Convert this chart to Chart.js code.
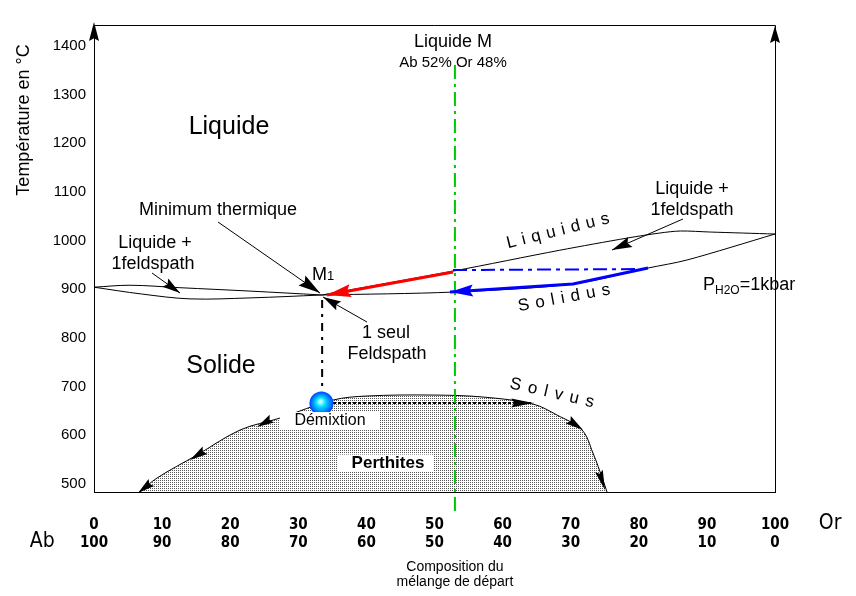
<!DOCTYPE html>
<html>
<head>
<meta charset="utf-8">
<script src="https://cdn.jsdelivr.net/npm/chart.js@4.4.0/dist/chart.umd.min.js"></script>
<style>
  html, body { margin: 0; padding: 0; background: #fff; }
</style>
</head>
<body>
<canvas id="diag" width="856" height="596"></canvas>
<script>
/* diagramme Ab-Or : liquidus / solidus / solvus, P H2O = 1 kbar */

// ── Axes ──────────────────────────────────────────────────────────────────
const orTicks   = [0, 10, 20, 30, 40, 50, 60, 70, 80, 90, 100];
const abTicks   = [100, 90, 80, 70, 60, 50, 40, 30, 20, 10, 0];
const tempTicks = [500, 600, 700, 800, 900, 1000, 1100, 1200, 1300, 1400];

// ── Courbes (x = % Or, y = °C) ────────────────────────────────────────────
const liquidusAb = [[0, 904], [5.3, 908], [12.6, 903], [22.9, 896], [33.5, 888]];
const solidusAb  = [[0, 904], [7, 890], [14.1, 880], [22.9, 882], [33.5, 888]];
const liquidusOr = [[33.5, 888], [52.7, 937], [68.4, 980], [78.3, 1005], [83.1, 1015.4],
                    [86.1, 1019.5], [90.5, 1017.4], [100, 1013.3]];
const solidusOr  = [[33.5, 888], [52.7, 894], [70.3, 910.5], [81.35, 943.4], [87.1, 960], [100, 1013.3]];
const solvus     = [[6.75, 483], [9.25, 511.7], [15.12, 559], [21.44, 610.4], [27.31, 635],
                    [35.1, 672], [40.09, 680.3], [49.78, 682.3], [57.12, 678.2], [64.46, 663.8],
                    [67.99, 641.2], [71.66, 610.4], [73.27, 563.1], [74.74, 507.6], [75.33, 483]];

// chemins de cristallisation
const startComp  = [[53, 1361], [53, 442]];
const redPath    = [[52.72, 935.2], [34.21, 887.9]];
const bluePath   = [[81.35, 943.4], [70.34, 910.5], [52.28, 894.1]];
const blueTie    = [[52.72, 939.3], [81.35, 941.3]];
const m1Drop     = [[33.5, 877.6], [33.5, 692.6]];
const demixPath  = [[35.1, 666], [64.5, 666]];
const demixBall  = [[33.4, 665]];

// traits de renvoi des étiquettes
const ptrMinimum = [[18.21, 1038], [33.19, 892]];
const ptrLiqAb   = [[8.52, 933.1], [12.63, 892]];
const ptrSeul    = [[40.09, 832.4], [33.63, 883.8]];
const ptrLiqOr   = [[86.49, 1044.2], [76.06, 980.4]];

const FONT = '"Liberation Sans", Arial, sans-serif';
const NARROW = '"Liberation Sans Narrow", "DejaVu Sans Condensed", "Liberation Sans", sans-serif';

const toXY = arr => arr.map(([x, y]) => ({ x, y }));

function lineSet(points, color, width, extra) {
    return Object.assign({
        data: toXY(points),
        showLine: true,
        borderColor: color,
        backgroundColor: color,
        borderWidth: width,
        pointRadius: 0,
        pointHoverRadius: 0,
        fill: false,
        tension: 0,
        order: 3
    }, extra || {});
}

// trame pointillée des perthites
function stipple() {
    const c = document.createElement('canvas');
    c.width = 2; c.height = 2;
    const g = c.getContext('2d');
    g.fillStyle = '#ffffff'; g.fillRect(0, 0, 2, 2);
    g.fillStyle = '#555555'; g.fillRect(0, 0, 1, 1);
    return g.createPattern(c, 'repeat');
}

// ── Annotations ───────────────────────────────────────────────────────────
const arrowHeads = [
    { tip: [34.21, 887.9], from: [52.72, 935.2], len: 24, w: 13, color: '#ff0000' },
    { tip: [52.28, 894.1], from: [70.34, 910.5], len: 23, w: 12, color: '#0000ff' },
    { tip: [33.19, 892],   from: [18.21, 1038],  len: 22, w: 12, color: '#000' },
    { tip: [12.63, 892],   from: [8.52, 933.1],  len: 18, w: 10, color: '#000' },
    { tip: [33.63, 883.8], from: [40.09, 832.4], len: 18, w: 10, color: '#000' },
    { tip: [76.06, 980.4], from: [86.49, 1044.2], len: 20, w: 11, color: '#000' },
    { tip: [64.5, 666],    from: [35.1, 666],    len: 22, w: 9,  color: '#000' },
    { tip: [6.46, 481],    from: [9.25, 511.7],  len: 17, w: 9,  color: '#000' },
    { tip: [14.10, 548.7], from: [17.03, 575.4], len: 18, w: 9,  color: '#000' },
    { tip: [23.94, 616.5], from: [26.28, 635],   len: 17, w: 9,  color: '#000' },
    { tip: [71.81, 610.4], from: [68.43, 643.3], len: 18, w: 9,  color: '#000' },
    { tip: [75.04, 487],   from: [73.86, 538.5], len: 20, w: 8,  color: '#000' },
    { tip: [0, 1449],      from: [0, 1408],      len: 19, w: 10, color: '#000' },
    { tip: [100, 1441],    from: [100, 1406],    len: 17, w: 10, color: '#000' }
];

const notes = [
    { text: 'Liquide M',          x: 52.72, y: 1408,   font: '18px ' + FONT },
    { text: 'Ab 52% Or 48%',      x: 52.72, y: 1364.9, font: '15px ' + FONT },
    { text: 'Liquide',            x: 19.82, y: 1233.3, font: '25px ' + FONT },
    { text: 'Solide',             x: 18.65, y: 741.9,  font: '25px ' + FONT },
    { text: 'Minimum thermique',  x: 18.21, y: 1062.7, font: '18px ' + FONT },
    { text: 'Liquide +',          x: 8.96,  y: 994.8,  font: '18px ' + FONT },
    { text: '1feldspath',         x: 8.66,  y: 951.6,  font: '18px ' + FONT },
    { text: '1 seul',             x: 42.88, y: 809.8,  font: '18px ' + FONT },
    { text: 'Feldspath',          x: 43.02, y: 766.6,  font: '18px ' + FONT },
    { text: 'Liquide +',          x: 87.81, y: 1105.8, font: '18px ' + FONT },
    { text: '1feldspath',         x: 87.81, y: 1062.7, font: '18px ' + FONT }
];

const boxedNotes = [
    { text: 'Démixtion', x: 34.65, y: 628.9, font: '16px ' + FONT, bw: 100, bh: 18, dx: 0 },
    { text: 'Perthites', x: 43.17, y: 542.5, font: 'bold 17px ' + FONT, bw: 95, bh: 17, dx: -2.5 }
];

const spacedNotes = [
    { text: 'Liquidus', x: 68.13, y: 1019.5, angle: -14, gap: 6 },
    { text: 'Solidus',  x: 69.02, y: 881.7,  angle: -10.5, gap: 6.3 },
    { text: 'Solvus',   x: 67.25, y: 686.4,  angle: 13, gap: 7 }
];

function drawHead(ctx, tx, ty, fx, fy, len, w, color) {
    const a = Math.atan2(ty - fy, tx - fx);
    ctx.save();
    ctx.translate(tx, ty);
    ctx.rotate(a);
    ctx.beginPath();
    ctx.moveTo(0, 0);
    ctx.lineTo(-len, -w / 2);
    ctx.lineTo(-len * 0.85, 0);
    ctx.lineTo(-len, w / 2);
    ctx.closePath();
    ctx.fillStyle = color;
    ctx.fill();
    ctx.restore();
}

function drawSpaced(ctx, text, cx, cy, angle, gap) {
    ctx.save();
    ctx.font = '17px ' + FONT;
    const widths = [...text].map(ch => ctx.measureText(ch).width);
    const total = widths.reduce((s, w) => s + w, 0) + gap * (text.length - 1);
    ctx.translate(cx, cy);
    ctx.rotate(angle * Math.PI / 180);
    ctx.textAlign = 'left';
    ctx.textBaseline = 'middle';
    let x = -total / 2;
    [...text].forEach((ch, i) => { ctx.fillText(ch, x, 0); x += widths[i] + gap; });
    ctx.restore();
}

function drawRich(ctx, parts, x, y) {
    ctx.save();
    ctx.textAlign = 'left';
    ctx.textBaseline = 'alphabetic';
    parts.forEach(p => {
        ctx.font = p.size + 'px ' + FONT;
        ctx.fillText(p.t, x, y + p.dy);
        x += ctx.measureText(p.t).width;
    });
    ctx.restore();
}

function ballFill(c) {
    const ch = c.chart;
    const sx = ch.scales && ch.scales.x, sy = ch.scales && ch.scales.y;
    if (c.type !== 'data' || !sx || !sy || !c.raw) return '#1a9cff';
    const x = sx.getPixelForValue(c.raw.x);
    const y = sy.getPixelForValue(c.raw.y);
    if (!Number.isFinite(x) || !Number.isFinite(y)) return '#1a9cff';
    const g = ch.ctx.createRadialGradient(x - 1, y - 2, 1, x, y, 12);
    g.addColorStop(0, '#c0ffff');
    g.addColorStop(0.35, '#00dcff');
    g.addColorStop(1, '#0040ff');
    return g;
}

const diagramNotes = {
    id: 'diagramNotes',
    afterDatasetsDraw(chart) {
        const { ctx, chartArea: a, scales: { x: sx, y: sy } } = chart;
        const px = v => sx.getPixelForValue(v);
        const py = v => sy.getPixelForValue(v);

        ctx.save();
        // cadre haut et droit
        ctx.strokeStyle = '#000';
        ctx.lineWidth = 1;
        ctx.beginPath();
        ctx.moveTo(a.left, a.top + 0.5);
        ctx.lineTo(a.right + 0.5, a.top + 0.5);
        ctx.lineTo(a.right + 0.5, a.bottom);
        ctx.stroke();

        // cartouches blancs
        boxedNotes.forEach(n => {
            const cx = px(n.x), cy = py(n.y);
            ctx.fillStyle = '#fff';
            ctx.fillRect(cx + n.dx - n.bw / 2, cy - n.bh / 2, n.bw, n.bh);
        });

        ctx.fillStyle = '#000';
        ctx.textAlign = 'center';
        ctx.textBaseline = 'middle';
        notes.concat(boxedNotes).forEach(n => {
            ctx.font = n.font;
            ctx.fillText(n.text, px(n.x), py(n.y));
        });

        spacedNotes.forEach(n => drawSpaced(ctx, n.text, px(n.x), py(n.y), n.angle, n.gap));

        // M1 et P H2O
        drawRich(ctx, [{ t: 'M', size: 18, dy: 0 }, { t: '1', size: 13, dy: 0 }], px(32.01), py(918.7));
        drawRich(ctx, [{ t: 'P', size: 18, dy: 0 }, { t: 'H2O', size: 12, dy: 4 }, { t: '=1kbar', size: 18, dy: 0 }],
                 px(89.43), py(898.2));

        arrowHeads.forEach(h => drawHead(ctx, px(h.tip[0]), py(h.tip[1]), px(h.from[0]), py(h.from[1]), h.len, h.w, h.color));

        // légendes sous l'axe
        ctx.fillStyle = '#000';
        ctx.font = '21px ' + NARROW;
        ctx.fillText('Or', px(108.1), a.bottom + 32);
        ctx.fillText('Ab', px(-7.6), a.bottom + 50);
        ctx.font = '14px ' + FONT;
        ctx.fillText('Composition du', px(53), a.bottom + 75);
        ctx.fillText('mélange de départ', px(53), a.bottom + 90);

        // titre de l'axe des températures
        ctx.save();
        ctx.translate(a.left - 70, 120);
        ctx.rotate(-Math.PI / 2);
        ctx.font = '18px ' + FONT;
        ctx.fillText('Température en °C', 0, 0);
        ctx.restore();

        ctx.restore();
    }
};

const pattern = stipple();

new Chart(document.getElementById('diag').getContext('2d'), {
    type: 'scatter',
    data: {
        datasets: [
            {
                data: toXY(demixBall),
                pointRadius: 12,
                pointHoverRadius: 12,
                borderWidth: 0,
                order: 0,
                backgroundColor: ballFill
            },
            lineSet(redPath, '#ff0000', 3, { order: 1 }),
            lineSet(bluePath, '#0000ff', 3, { order: 1 }),
            lineSet(blueTie, '#0000ff', 2, { borderDash: [14, 5, 4, 5], order: 2 }),
            lineSet(startComp, '#00c800', 2, { borderDash: [14, 5, 3, 5], clip: false, order: 2 }),
            lineSet(m1Drop, '#000', 2, { borderDash: [8, 6, 3, 6], order: 2 }),
            lineSet(demixPath, '#000', 2, { borderDash: [3, 2], order: 2 }),
            lineSet(liquidusAb, '#000', 1, { tension: 0.35 }),
            lineSet(solidusAb, '#000', 1, { tension: 0.35 }),
            lineSet(liquidusOr, '#000', 1, { tension: 0.3 }),
            lineSet(solidusOr, '#000', 1, { tension: 0.3 }),
            lineSet(ptrMinimum, '#000', 1),
            lineSet(ptrLiqAb, '#000', 1),
            lineSet(ptrSeul, '#000', 1),
            lineSet(ptrLiqOr, '#000', 1),
            lineSet(solvus, '#000', 1, { fill: 'start', backgroundColor: pattern, tension: 0.35, order: 10, clip: false })
        ]
    },
    options: {
        responsive: false,
        animation: false,
        events: [],
        layout: { padding: { top: 25, right: 81, left: 0, bottom: 0 } },
        plugins: { legend: { display: false }, tooltip: { enabled: false } },
        scales: {
            x: {
                type: 'linear',
                min: 0,
                max: 100,
                afterBuildTicks: s => { s.ticks = orTicks.map(v => ({ value: v })); },
                afterFit: s => { s.height = 104; },
                grid: { display: false, drawTicks: false },
                border: { display: true, color: '#000', width: 1 },
                ticks: {
                    autoSkip: false,
                    maxRotation: 0,
                    padding: 24,
                    color: '#000',
                    font: { family: NARROW, size: 15, weight: 'bold', lineHeight: 1.2 },
                    callback: (v, i) => [String(orTicks[i]), String(abTicks[i])]
                }
            },
            y: {
                type: 'linear',
                min: 483,
                max: 1443,
                afterBuildTicks: s => { s.ticks = tempTicks.map(v => ({ value: v })); },
                afterFit: s => { s.width = 94; },
                grid: { display: false, drawTicks: false },
                border: { display: true, color: '#000', width: 1 },
                ticks: {
                    padding: 8,
                    color: '#000',
                    font: { family: FONT, size: 15 },
                    callback: v => String(v)
                }
            }
        }
    },
    plugins: [diagramNotes]
});
</script>
</body>
</html>
